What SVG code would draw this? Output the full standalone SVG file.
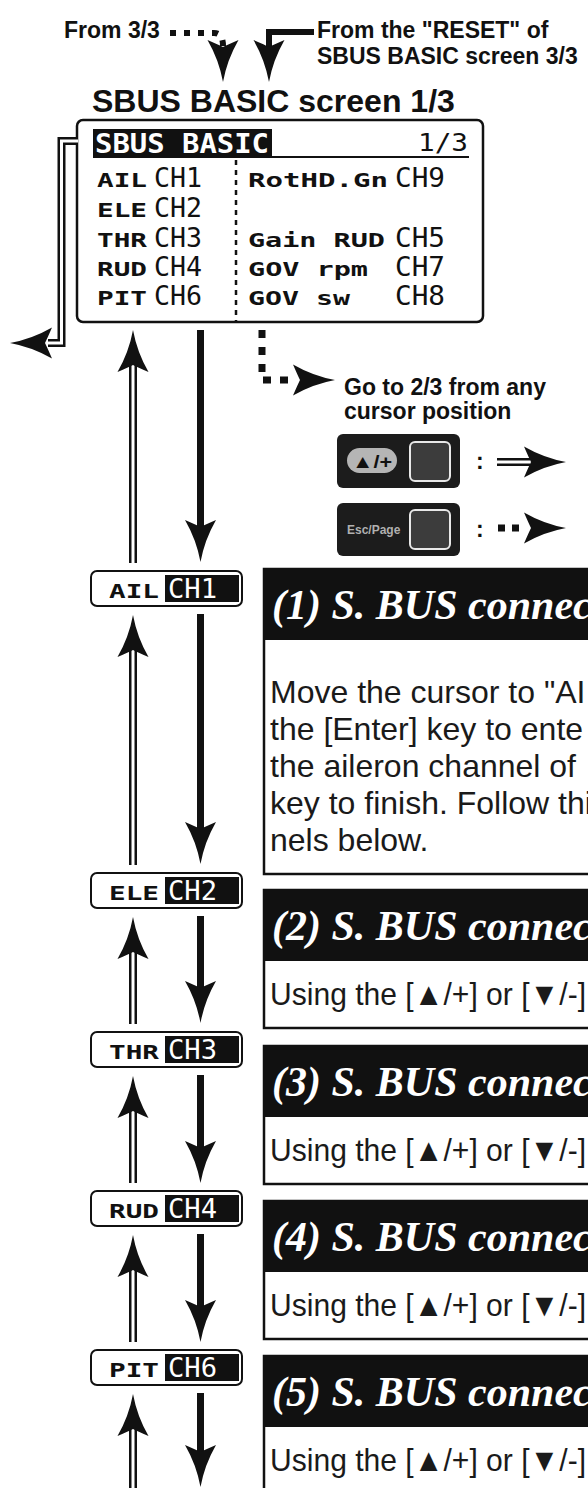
<svg xmlns="http://www.w3.org/2000/svg" width="588" height="1488" viewBox="0 0 588 1488">
<defs>
<path id="ah" d="M0,0 Q-4,-22 -15.5,-42 Q-4,-37 0,-35 Q4,-37 15.5,-42 Q4,-22 0,0 Z" fill="#111"/>
<style>
.lab{font-family:"Liberation Sans",Arial,sans-serif;font-weight:bold;font-size:23px;fill:#111}
.title{font-family:"Liberation Sans",Arial,sans-serif;font-weight:bold;font-size:32px;fill:#111}
.lcdl{font-family:"DejaVu Sans Mono",monospace;font-weight:bold;font-size:19px;fill:#111}
.lcdc{font-family:"DejaVu Sans Mono",monospace;font-size:27px;fill:#111}
.inv{fill:#fff}
.hd{font-family:"Liberation Serif","Times New Roman",serif;font-style:italic;font-weight:bold;font-size:42px;fill:#fff}
.body{font-family:"Liberation Sans",Arial,sans-serif;font-size:32px;fill:#1a1a1a}
.shaft{stroke:#111;stroke-width:7;fill:none}
.dblo{stroke:#111;stroke-width:8;fill:none;stroke-linejoin:miter}
.dbli{stroke:#fff;stroke-width:3;fill:none;stroke-linejoin:miter}
.dash{stroke:#111;stroke-width:7;fill:none;stroke-dasharray:8 9}
.chbox{fill:#fff;stroke:#111;stroke-width:2}
.hdr{fill:#111}
.tbox{fill:#fff;stroke:#111;stroke-width:2.5}
</style>
</defs>

<g id="top-labels">
<text class="lab" x="64" y="38">From 3/3</text>
<text class="lab" x="317" y="38">From the "RESET" of</text>
<text class="lab" x="317" y="64">SBUS BASIC screen 3/3</text>
<text class="title" x="92" y="112">SBUS BASIC screen 1/3</text>
</g>

<g id="screen">
<rect x="77" y="120" width="406" height="202" rx="6" fill="#fff" stroke="#111" stroke-width="2.5"/>
<rect x="93" y="129" width="179" height="28" fill="#111"/>
<line x1="93" y1="157" x2="469" y2="157" stroke="#111" stroke-width="2"/>
<text class="lcdc inv" x="95" y="153" style="font-size:26px;font-weight:bold" textLength="174" lengthAdjust="spacingAndGlyphs">SBUS BASIC</text>
<text class="lcdc" x="418" y="151" style="font-size:25px" textLength="50" lengthAdjust="spacingAndGlyphs">1/3</text>
<line x1="236" y1="160" x2="236" y2="322" stroke="#111" stroke-width="2.5" stroke-dasharray="5 5"/>
<text class="lcdl" x="97" y="187" textLength="50" lengthAdjust="spacingAndGlyphs">AIL</text>
<text class="lcdl" x="97" y="217" textLength="50" lengthAdjust="spacingAndGlyphs">ELE</text>
<text class="lcdl" x="97" y="247" textLength="50" lengthAdjust="spacingAndGlyphs">THR</text>
<text class="lcdl" x="97" y="276" textLength="50" lengthAdjust="spacingAndGlyphs">RUD</text>
<text class="lcdl" x="97" y="305" textLength="50" lengthAdjust="spacingAndGlyphs">PIT</text>
<text class="lcdc" x="154" y="187" textLength="48" lengthAdjust="spacingAndGlyphs">CH1</text>
<text class="lcdc" x="154" y="217" textLength="48" lengthAdjust="spacingAndGlyphs">CH2</text>
<text class="lcdc" x="154" y="247" textLength="48" lengthAdjust="spacingAndGlyphs">CH3</text>
<text class="lcdc" x="154" y="276" textLength="48" lengthAdjust="spacingAndGlyphs">CH4</text>
<text class="lcdc" x="154" y="305" textLength="48" lengthAdjust="spacingAndGlyphs">CH6</text>
<text class="lcdl" x="248" y="187" textLength="140" lengthAdjust="spacingAndGlyphs">RotHD.Gn</text>
<text class="lcdl" x="248" y="247" textLength="137" lengthAdjust="spacingAndGlyphs">Gain RUD</text>
<text class="lcdl" x="248" y="276" textLength="120" lengthAdjust="spacingAndGlyphs">GOV rpm</text>
<text class="lcdl" x="248" y="305" textLength="102" lengthAdjust="spacingAndGlyphs">GOV sw</text>
<text class="lcdc" x="395" y="187" textLength="50" lengthAdjust="spacingAndGlyphs">CH9</text>
<text class="lcdc" x="395" y="247" textLength="50" lengthAdjust="spacingAndGlyphs">CH5</text>
<text class="lcdc" x="395" y="276" textLength="50" lengthAdjust="spacingAndGlyphs">CH7</text>
<text class="lcdc" x="395" y="305" textLength="50" lengthAdjust="spacingAndGlyphs">CH8</text>
</g>

<g id="go-label">
<text class="lab" x="344" y="395">Go to 2/3 from any</text>
<text class="lab" x="344" y="419">cursor position</text>
</g>

<g id="key-up">
<rect x="337" y="434" width="123" height="54" rx="6" fill="#1c1c1c"/>
<rect x="347" y="448" width="50" height="25" rx="12.5" fill="#b5b5b5"/>
<text x="372" y="468" text-anchor="middle" font-family="Liberation Sans, Arial, sans-serif" font-weight="bold" font-size="19" fill="#111" textLength="40" lengthAdjust="spacingAndGlyphs">▲/+</text>
<rect x="410" y="442" width="40" height="39" rx="5" fill="#3c3c3c" stroke="#e8e8e8" stroke-width="2"/>
<text class="lab" x="476" y="469">:</text>
</g>

<g id="key-esc">
<rect x="337" y="503" width="123" height="53" rx="6" fill="#1c1c1c"/>
<text x="347" y="534" font-family="Liberation Sans, Arial, sans-serif" font-weight="bold" font-size="12" fill="#b0b0b0">Esc/Page</text>
<rect x="410" y="510" width="40" height="39" rx="5" fill="#3c3c3c" stroke="#e8e8e8" stroke-width="2"/>
<text class="lab" x="476" y="537">:</text>
</g>

<g id="box1">
<rect class="tbox" x="264" y="569" width="340" height="305"/>
<rect class="hdr" x="264" y="569" width="340" height="71"/>
<text class="hd" x="272" y="619">(1) S. BUS connec</text>
<text class="body" x="270" y="703">Move the cursor to "AI</text>
<text class="body" x="270" y="740">the [Enter] key to ente</text>
<text class="body" x="270" y="777">the aileron channel of</text>
<text class="body" x="270" y="814">key to finish. Follow thi</text>
<text class="body" x="270" y="851">nels below.</text>
</g>

<g id="box2">
<rect class="tbox" x="264" y="890" width="340" height="138"/>
<rect class="hdr" x="264" y="890" width="340" height="71"/>
<text class="hd" x="272" y="940">(2) S. BUS connec</text>
<text class="body" x="270" y="1005" textLength="316" lengthAdjust="spacingAndGlyphs">Using the [▲/+] or [▼/-]</text>
</g>

<g id="box3">
<rect class="tbox" x="264" y="1046" width="340" height="138"/>
<rect class="hdr" x="264" y="1046" width="340" height="71"/>
<text class="hd" x="272" y="1096">(3) S. BUS connec</text>
<text class="body" x="270" y="1161" textLength="316" lengthAdjust="spacingAndGlyphs">Using the [▲/+] or [▼/-]</text>
</g>

<g id="box4">
<rect class="tbox" x="264" y="1201" width="340" height="138"/>
<rect class="hdr" x="264" y="1201" width="340" height="71"/>
<text class="hd" x="272" y="1251">(4) S. BUS connec</text>
<text class="body" x="270" y="1316" textLength="316" lengthAdjust="spacingAndGlyphs">Using the [▲/+] or [▼/-]</text>
</g>

<g id="box5">
<rect class="tbox" x="264" y="1356" width="340" height="150"/>
<rect class="hdr" x="264" y="1356" width="340" height="71"/>
<text class="hd" x="272" y="1406">(5) S. BUS connec</text>
<text class="body" x="270" y="1471" textLength="316" lengthAdjust="spacingAndGlyphs">Using the [▲/+] or [▼/-]</text>
</g>

<g id="ch-ail">
<rect class="chbox" x="91" y="571" width="151" height="35" rx="6"/>
<text class="lcdl" x="109" y="598" textLength="50" lengthAdjust="spacingAndGlyphs">AIL</text>
<rect x="165" y="575" width="74" height="27" fill="#111"/>
<text class="lcdc inv" x="168" y="598" textLength="49" lengthAdjust="spacingAndGlyphs">CH1</text>
</g>
<g id="ch-ele">
<rect class="chbox" x="91" y="873" width="151" height="35" rx="6"/>
<text class="lcdl" x="109" y="900" textLength="50" lengthAdjust="spacingAndGlyphs">ELE</text>
<rect x="165" y="877" width="74" height="27" fill="#111"/>
<text class="lcdc inv" x="168" y="900" textLength="49" lengthAdjust="spacingAndGlyphs">CH2</text>
</g>
<g id="ch-thr">
<rect class="chbox" x="91" y="1032" width="151" height="35" rx="6"/>
<text class="lcdl" x="109" y="1059" textLength="50" lengthAdjust="spacingAndGlyphs">THR</text>
<rect x="165" y="1036" width="74" height="27" fill="#111"/>
<text class="lcdc inv" x="168" y="1059" textLength="49" lengthAdjust="spacingAndGlyphs">CH3</text>
</g>
<g id="ch-rud">
<rect class="chbox" x="91" y="1191" width="151" height="35" rx="6"/>
<text class="lcdl" x="109" y="1218" textLength="50" lengthAdjust="spacingAndGlyphs">RUD</text>
<rect x="165" y="1195" width="74" height="27" fill="#111"/>
<text class="lcdc inv" x="168" y="1218" textLength="49" lengthAdjust="spacingAndGlyphs">CH4</text>
</g>
<g id="ch-pit">
<rect class="chbox" x="91" y="1350" width="151" height="35" rx="6"/>
<text class="lcdl" x="109" y="1377" textLength="50" lengthAdjust="spacingAndGlyphs">PIT</text>
<rect x="165" y="1354" width="74" height="27" fill="#111"/>
<text class="lcdc inv" x="168" y="1377" textLength="49" lengthAdjust="spacingAndGlyphs">CH6</text>
</g>

<g id="connectors">
<path d="M170,33 H214 Q223,33 223,46" stroke="#111" stroke-width="6" fill="none" stroke-dasharray="6 8"/>
<use href="#ah" transform="translate(223,82)"/>
<path d="M314,32 H269 V48" stroke="#111" stroke-width="6" fill="none" stroke-linejoin="miter"/>
<use href="#ah" transform="translate(269,82)"/>
<path class="dblo" d="M78,141 H61.5 V343 H48"/>
<path class="dbli" d="M78,141 H61.5 V343 H48"/>
<use href="#ah" transform="translate(10,343) rotate(90)"/>
<path class="dash" d="M262,330 V380 H296"/>
<use href="#ah" transform="translate(335,380) rotate(-90)"/>
<path class="dblo" d="M497,462 H530"/>
<path class="dbli" d="M497,462 H530"/>
<use href="#ah" transform="translate(566,462) rotate(-90)"/>
<path d="M498,528 H526" stroke="#111" stroke-width="7" fill="none" stroke-dasharray="7 7"/>
<use href="#ah" transform="translate(566,528) rotate(-90)"/>
<path class="dblo" d="M133,365 V563 M133,650 V865 M133,952 V1024 M133,1111 V1183 M133,1270 V1342 M133,1429 V1490"/>
<path class="dbli" d="M133,365 V563 M133,650 V865 M133,952 V1024 M133,1111 V1183 M133,1270 V1342 M133,1429 V1490"/>
<use href="#ah" transform="translate(133,330) rotate(180)"/>
<use href="#ah" transform="translate(133,615) rotate(180)"/>
<use href="#ah" transform="translate(133,917) rotate(180)"/>
<use href="#ah" transform="translate(133,1076) rotate(180)"/>
<use href="#ah" transform="translate(133,1235) rotate(180)"/>
<use href="#ah" transform="translate(133,1394) rotate(180)"/>
<path class="shaft" d="M200.5,330 V530 M200.5,614 V831 M200.5,916 V990 M200.5,1075 V1150 M200.5,1234 V1309 M200.5,1393 V1454"/>
<use href="#ah" transform="translate(200.5,562)"/>
<use href="#ah" transform="translate(200.5,864)"/>
<use href="#ah" transform="translate(200.5,1023)"/>
<use href="#ah" transform="translate(200.5,1183)"/>
<use href="#ah" transform="translate(200.5,1342)"/>
<use href="#ah" transform="translate(200.5,1487)"/>
</g>
</svg>
